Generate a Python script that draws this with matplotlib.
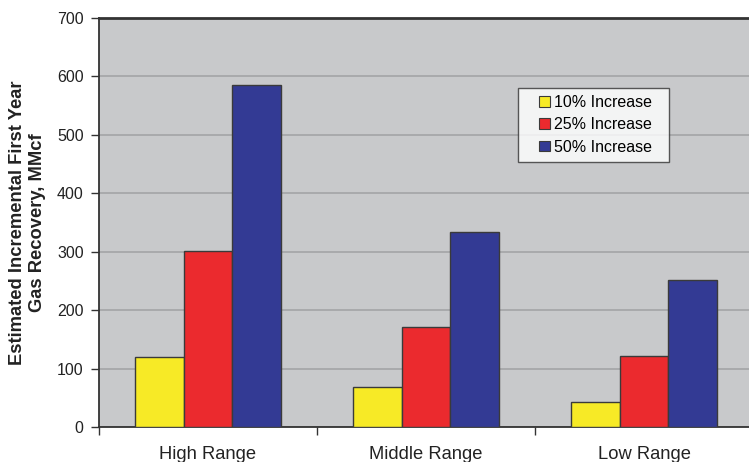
import matplotlib
matplotlib.use("Agg")
import matplotlib.pyplot as plt
import numpy as np
from matplotlib.patches import Patch, Rectangle
from matplotlib.legend_handler import HandlerPatch

categories = ["High Range", "Middle Range", "Low Range"]
series_names = ["10% Increase", "25% Increase", "50% Increase"]
inc10 = [120, 68, 42]
inc25 = [301, 171, 122]
inc50 = [586, 333, 251]
yticks = [0, 100, 200, 300, 400, 500, 600, 700]

colors = ["#F7EA26", "#EB2A2E", "#333A94"]
edge = "#3A3A3A"

plt.rcParams["font.family"] = ["Liberation Sans", "DejaVu Sans"]

fig = plt.figure(figsize=(7.49, 4.62), dpi=100)
ax = fig.add_axes([99 / 749, 35 / 462, 654 / 749, 409 / 462])
ax.set_facecolor("#C8C9CB")

x = np.arange(len(categories)) + 0.5
w = 1 / 4.5
for i, (vals, c) in enumerate(zip([inc10, inc25, inc50], colors)):
    ax.bar(x + (i - 1) * w, vals, width=w, color=c, edgecolor=edge,
           linewidth=1.0, zorder=3)

ax.set_xlim(0, 3)
ax.set_ylim(0, 700)
ax.set_yticks(yticks)
ax.yaxis.grid(True, color="#A6A7A9", linewidth=1.3, zorder=0)
ax.tick_params(axis="y", direction="out", length=6, width=1, color="#333333",
               labelsize=11.5, labelcolor="#222222", pad=5)

ax.set_xticks([0, 1, 2, 3])
ax.set_xticklabels([])
ax.set_xticks(x, minor=True)
ax.set_xticklabels(categories, minor=True, fontsize=13.2, color="#222222")
ax.tick_params(axis="x", which="major", direction="out", length=6, width=1,
               color="#333333")
ax.tick_params(axis="x", which="minor", length=0, pad=14)

for s in ax.spines.values():
    s.set_color("#333333")
    s.set_linewidth(1.3)
ax.spines["top"].set_linewidth(2.0)

ax.set_ylabel("Estimated Incremental First Year\nGas Recovery, MMcf",
              fontsize=13.2, fontweight="bold", color="#222222", labelpad=8,
              linespacing=1.2)


def square_at_right(legend, orig_handle, xdescent, ydescent, width, height,
                    fontsize):
    s = 0.68 * fontsize
    return Rectangle((-xdescent + width - s, -ydescent + (height - s) / 2),
                     s, s)


handles = [Patch(facecolor=c, edgecolor=edge, linewidth=0.8) for c in colors]
x0 = (518 - 99) / 654
x1 = (669 - 99) / 654
y_top = (427 - 88) / 409
y_bot = (427 - 157) / 409
leg = ax.legend(handles, series_names, loc="upper left",
                bbox_to_anchor=(x0, y_bot, x1 - x0, y_top - y_bot),
                mode="expand",
                fontsize=11.5, frameon=True, fancybox=False,
                handlelength=1.55, handleheight=0.7, handletextpad=0.25,
                borderpad=0.45, labelspacing=0.45, borderaxespad=0,
                handler_map={Patch: HandlerPatch(patch_func=square_at_right)})
leg.get_frame().set_edgecolor("#333333")
leg.get_frame().set_linewidth(1.0)
leg.get_frame().set_facecolor("white")
leg.set_zorder(5)

fig.savefig("out.png", dpi=100, facecolor="white")
